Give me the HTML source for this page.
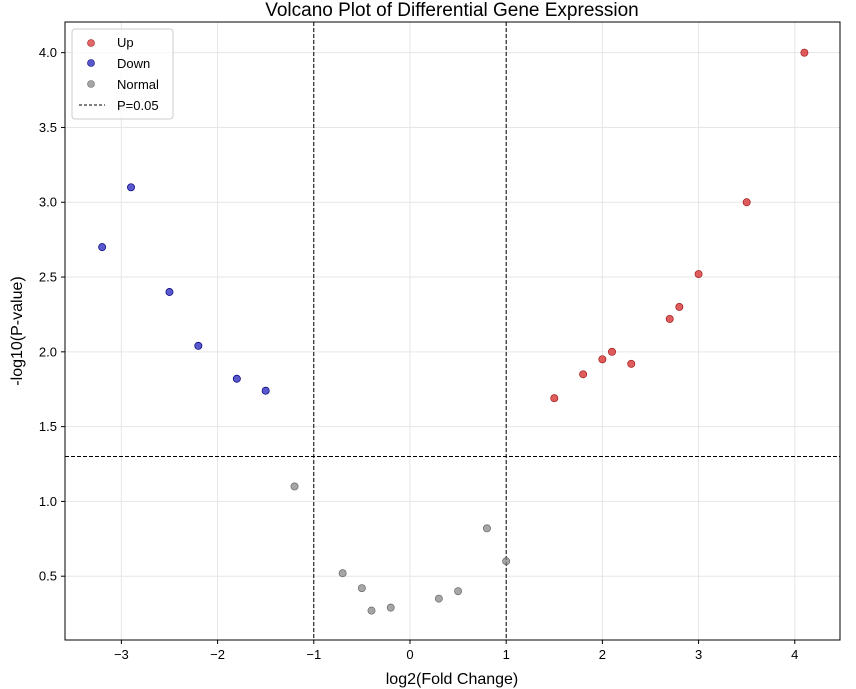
<!DOCTYPE html>
<html><head><meta charset="utf-8"><style>
body{margin:0;background:#fff;}
svg{display:block;font-family:"Liberation Sans","DejaVu Sans",sans-serif;}
</style></head><body>
<svg id="chart" width="856" height="689" viewBox="0 0 856 689">
<rect width="856" height="689" fill="#fff"/>
<text x="452" y="16" text-anchor="middle" font-size="19" fill="#000">Volcano Plot of Differential Gene Expression</text>
<g id="grid"></g>
<g id="lines"></g>
<g id="points"></g>
<rect x="65" y="22" width="775" height="618" fill="none" stroke="#000" stroke-width="1"/>
<g id="ticks"></g>
<text x="452" y="684" text-anchor="middle" font-size="16">log2(Fold Change)</text>
<text transform="translate(22,331) rotate(-90)" text-anchor="middle" font-size="16">-log10(P-value)</text>
<g id="legend">
<rect x="72" y="29" width="101" height="90" rx="3" fill="#fff" fill-opacity="0.8" stroke="#ccc"/>
<circle cx="91" cy="43" r="3.5" fill="#d62728" fill-opacity="0.7" stroke="#a01818" stroke-width="0.6"/>
<text x="117" y="47" font-size="13">Up</text>
<circle cx="91" cy="63" r="3.5" fill="#0000b0" fill-opacity="0.65" stroke="#000080" stroke-width="0.6"/>
<text x="117" y="68" font-size="13">Down</text>
<circle cx="91" cy="84" r="3.5" fill="#808080" fill-opacity="0.7" stroke="#666" stroke-width="0.6"/>
<text x="117" y="89" font-size="13">Normal</text>
<line x1="79" y1="105" x2="105" y2="105" stroke="#000" stroke-dasharray="3,2"/>
<text x="117" y="110" font-size="13">P=0.05</text>
</g>
</svg>
<script>
const upX=[1.5,1.8,2.0,2.1,2.3,2.7,2.8,3.0,3.5,4.1];
const upY=[1.69,1.85,1.95,2.0,1.92,2.22,2.3,2.52,3.0,4.0];
const downX=[-3.2,-2.9,-2.5,-2.2,-1.8,-1.5];
const downY=[2.7,3.1,2.4,2.04,1.82,1.74];
const normalX=[-1.2,-0.7,-0.5,-0.4,-0.2,0.3,0.5,0.8,1.0];
const normalY=[1.1,0.52,0.42,0.27,0.29,0.35,0.4,0.82,0.6];
const xTicks=[-3,-2,-1,0,1,2,3,4];
const yTicks=[0.5,1.0,1.5,2.0,2.5,3.0,3.5,4.0];
const fcThresh=[-1,1];
const pThresh=1.3;

const NS="http://www.w3.org/2000/svg";
const L=65,R=840,T=22,B=640;
const xMin=-3.586,xMax=4.47,yMin=0.0735,yMax=4.205;
function sx(v){return L+(v-xMin)/(xMax-xMin)*(R-L);}
function sy(v){return B-(v-yMin)/(yMax-yMin)*(B-T);}
function mk(tag,attrs,parent){const e=document.createElementNS(NS,tag);for(const k in attrs)e.setAttribute(k,attrs[k]);parent.appendChild(e);return e;}
const grid=document.getElementById('grid'),ticks=document.getElementById('ticks'),lines=document.getElementById('lines'),pts=document.getElementById('points');
xTicks.forEach(v=>{
 const g=mk('line',{x1:sx(v),x2:sx(v),y1:T,y2:B,stroke:'#e6e6e6','stroke-width':1},grid);
 
 
 const t=mk('line',{x1:sx(v),x2:sx(v),y1:B,y2:B+4,stroke:'#000'},ticks);
 
 
 const tx=mk('text',{x:sx(v),y:B+19,'text-anchor':'middle','font-size':13},ticks);
 tx.textContent=(v<0?'\u2212'+(-v):String(v));
 
 
});
yTicks.forEach(v=>{
 const g=mk('line',{x1:L,x2:R,y1:sy(v),y2:sy(v),stroke:'#e6e6e6','stroke-width':1},grid);
 
 
 const t=mk('line',{x1:L-4,x2:L,y1:sy(v),y2:sy(v),stroke:'#000'},ticks);
 
 
 const tx=mk('text',{x:L-8,y:sy(v)+4.5,'text-anchor':'end','font-size':13},ticks);
 tx.textContent=v.toFixed(1);
 
 
});
fcThresh.forEach(v=>{
 const l=mk('line',{x1:sx(v),x2:sx(v),y1:T,y2:B,stroke:'#000','stroke-dasharray':'4,2','stroke-width':1},lines);
 
 
});
const hl=mk('line',{x1:L,x2:R,y1:sy(pThresh),y2:sy(pThresh),stroke:'#000','stroke-dasharray':'4,2','stroke-width':1},lines);


function series(xs,ys,color,edge,op,name){
 xs.forEach((x,i)=>{
  const c=mk('circle',{cx:sx(x),cy:sy(ys[i]),r:3.6,fill:color,'fill-opacity':op,stroke:edge,'stroke-width':0.7},pts);
  
  
 });
}
series(upX,upY,'#d62728','#a01818',0.75,'up-point');
series(downX,downY,'#0000b0','#000080',0.65,'down-point');
series(normalX,normalY,'#808080','#666',0.7,'normal-point');
</script>
</body></html>
